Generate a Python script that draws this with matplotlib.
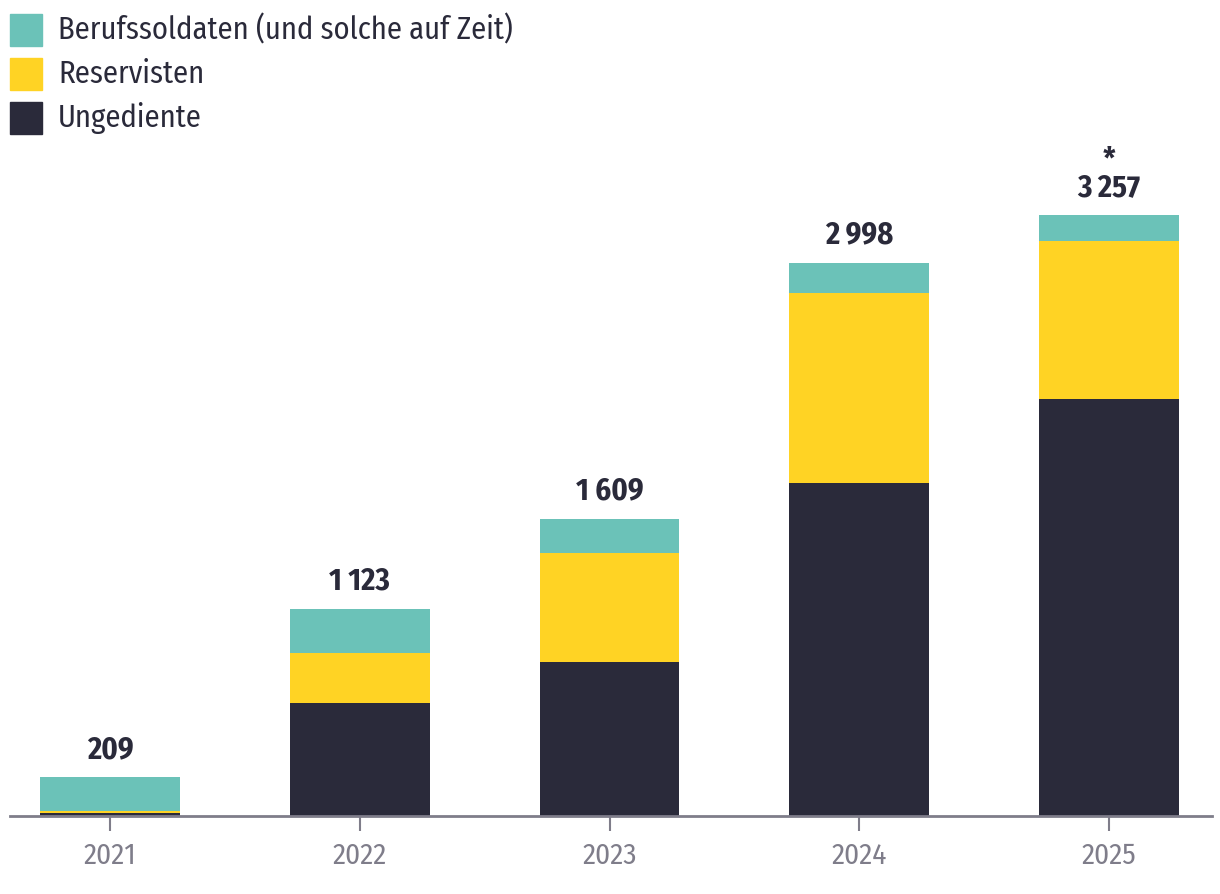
import matplotlib
matplotlib.use('Agg')
import matplotlib.pyplot as plt
from matplotlib.patches import Rectangle
import numpy as np

# Data
years = ['2021', '2022', '2023', '2024', '2025']
ungediente = [16, 612, 835, 1805, 2260]
reservisten = [11, 271, 591, 1030, 856]
berufssoldaten = [182, 240, 183, 163, 141]
totals = [209, 1123, 1609, 2998, 3257]
total_labels = ['209', '1 123', '1 609', '2 998', '3 257']
footnote_marks = ['', '', '', '', '*']

series_names = ['Berufssoldaten (und solche auf Zeit)', 'Reservisten', 'Ungediente']
c_teal = '#6bc2b8'
c_yellow = '#ffd324'
c_dark = '#2a2a3a'
c_axis = '#7f7d8a'

plt.rcParams['font.family'] = ['Fira Sans Condensed', 'DejaVu Sans']

W, H = 1220, 894
fig = plt.figure(figsize=(W / 100, H / 100), dpi=100)
ax = fig.add_axes([10 / W, 78 / H, 1202 / W, 744 / H])

x = np.arange(len(years))
width = 0.56
ung = np.array(ungediente)
res = np.array(reservisten)
ber = np.array(berufssoldaten)

ax.bar(x, ung, width, color=c_dark)
ax.bar(x, res, width, bottom=ung, color=c_yellow)
ax.bar(x, ber, width, bottom=ung + res, color=c_teal)

# total labels, the footnote star sits on its own line above the number
for xi, tot, lab, mark in zip(x, totals, total_labels, footnote_marks):
    text = mark + '\n' + lab if mark else lab
    ax.annotate(text, (xi, tot), xytext=(0, 9), textcoords='offset points',
                ha='center', va='bottom', multialignment='center', linespacing=0.9,
                fontsize=22, fontweight='bold', color=c_dark)

ax.set_xlim(-0.4004, 4.412)
ax.set_ylim(0, 744 * 5.42)
ax.set_xticks(x)
ax.set_xticklabels(years, fontsize=21, color=c_axis)
ax.tick_params(axis='x', length=11, width=1.5, color=c_axis, pad=7)
ax.set_yticks([])
for side in ['top', 'right', 'left']:
    ax.spines[side].set_visible(False)
ax.spines['bottom'].set_color(c_axis)
ax.spines['bottom'].set_linewidth(2)

# Legend drawn in figure pixels
legend_colors = [c_teal, c_yellow, c_dark]
for i, (name, col) in enumerate(zip(series_names, legend_colors)):
    top = 14 + 44 * i
    fig.patches.append(Rectangle((10 / W, 1 - (top + 32) / H), 32 / W, 32 / H,
                                 transform=fig.transFigure, color=col))
    fig.text(58 / W, 1 - (top + 16) / H, name, fontsize=22, color=c_dark,
             ha='left', va='center')

plt.savefig('out.png', dpi=100)
plt.close()
